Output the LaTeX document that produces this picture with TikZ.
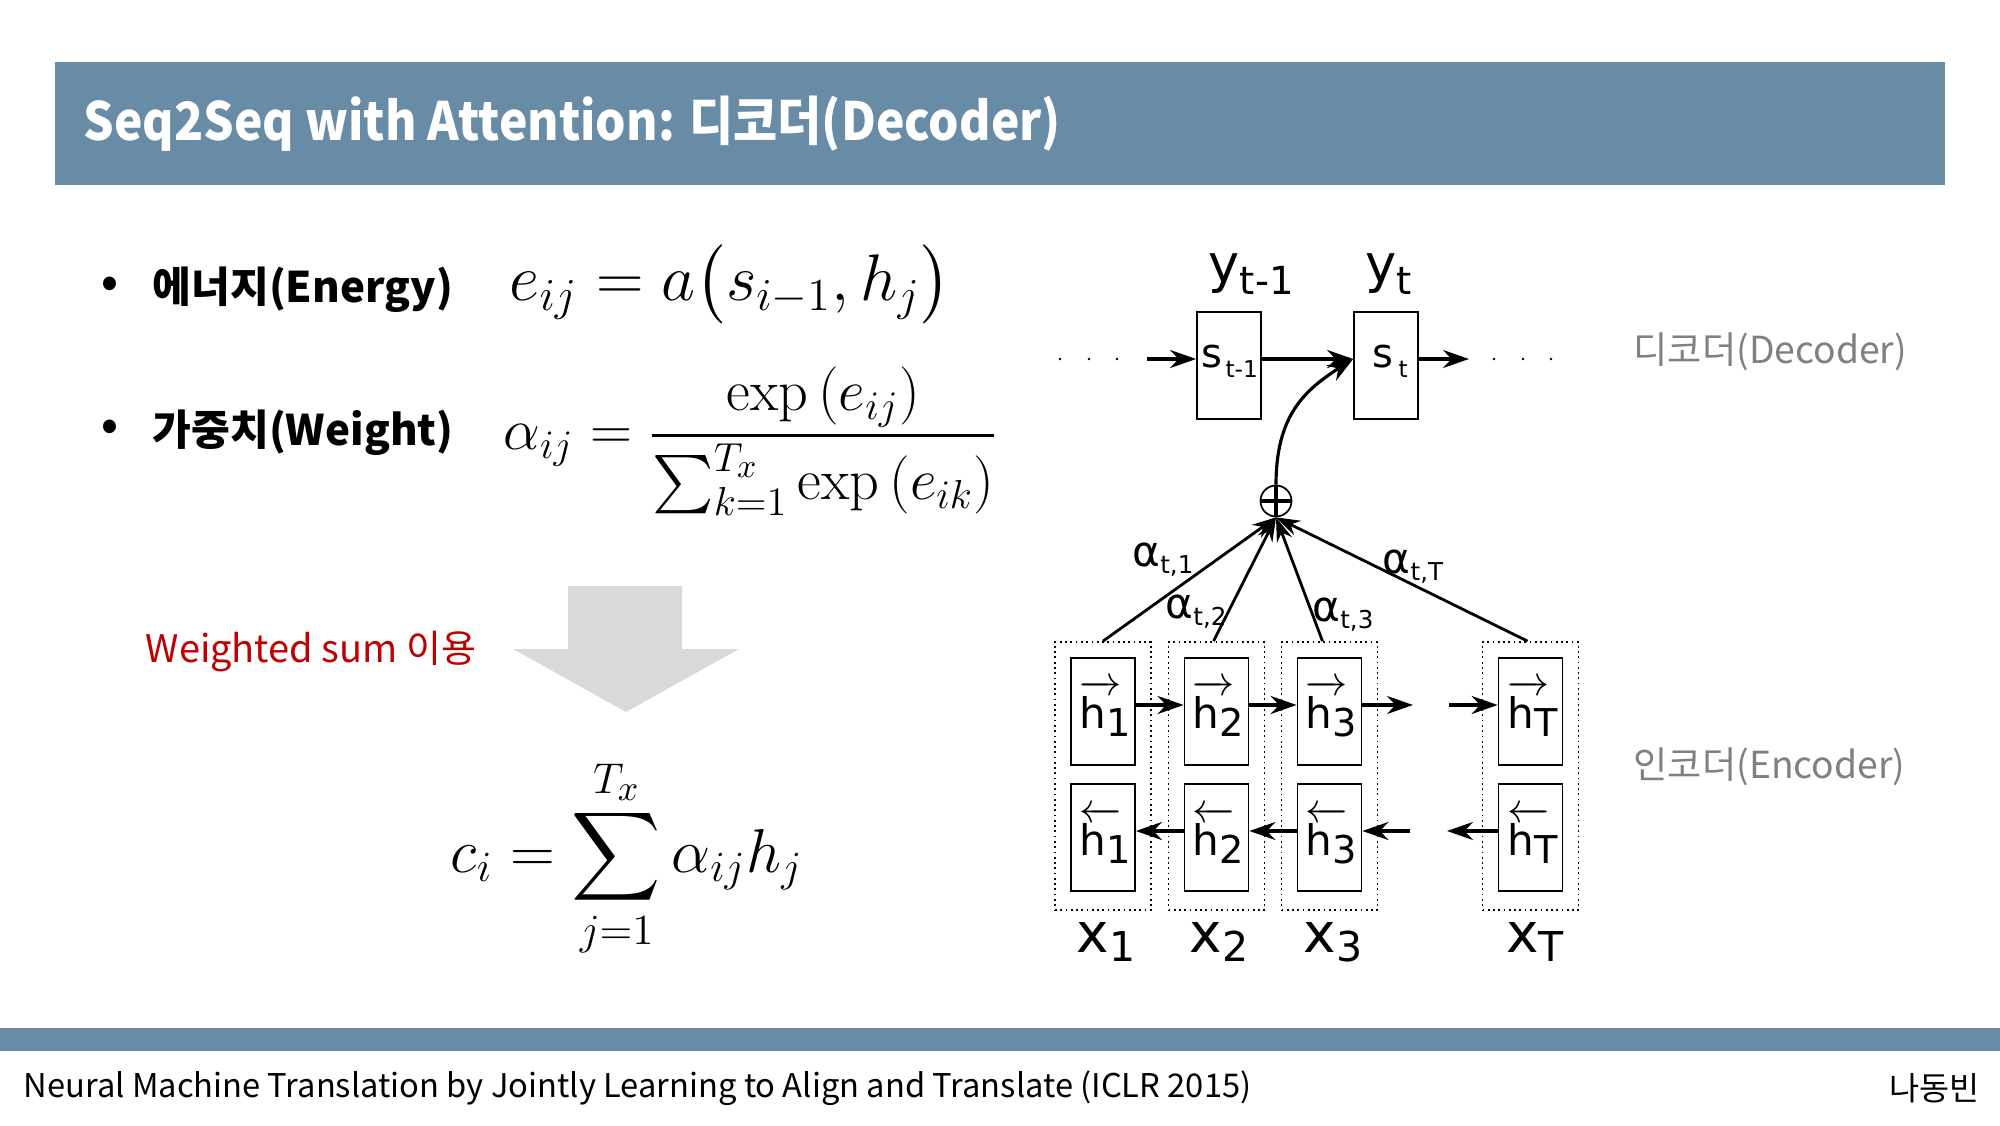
\documentclass[tikz,border=0pt]{standalone}
\usepackage{amsmath}
\usepackage{graphicx}
\usepackage[no-math]{fontspec}
\setmainfont{Noto Sans CJK KR}
\newfontfamily\narrowfont[FakeStretch=0.91]{Noto Sans CJK KR}
\newfontfamily\dvfont{DejaVu Sans}
\usetikzlibrary{arrows.meta}
\definecolor{SQBar}{HTML}{688BA6}
\definecolor{SQRed}{HTML}{C00000}
\definecolor{SQArrow}{HTML}{D9D9D9}
\definecolor{SQGrey}{HTML}{808080}
\newcommand{\lsub}[3]{\raisebox{-#1}{\fontsize{#2}{#2}\selectfont #3}}
\newcommand{\hright}{\rlap{$\overrightarrow{\phantom{\text{h}}}$}h}
\newcommand{\hleft}{\rlap{$\overleftarrow{\phantom{\text{h}}}$}h}
\tikzset{
  txt/.style={inner sep=0pt},
  mth/.style={inner sep=0pt,anchor=base west,font=\fontsize{17.28}{21}\selectfont},
  dv/.style={inner sep=0pt,font=\dvfont\fontsize{#1}{#1}\selectfont},
  cell/.style={draw,line width=0.5pt,minimum width=0.64cm,minimum height=1.07cm,inner sep=0pt},
  col/.style={draw,densely dotted,line width=0.5pt,minimum width=0.96cm,minimum height=2.68cm,inner sep=0pt},
  flow/.style={line width=0.9pt,-{Stealth[length=2.6mm,width=1.8mm]}},
  att/.style={line width=0.8pt,-{Stealth[length=2.4mm,width=1.6mm]}},
}

\begin{document}
\begin{tikzpicture}[x=1cm,y=1cm]
\path[use as bounding box] (0,0) rectangle (20,11.25);
\fill[SQBar] (0.55,9.40) rectangle (19.45,10.625);
\node[txt,anchor=west,text=white,font=\narrowfont\fontsize{15}{18}\selectfont\bfseries] (title) at (0.83,10.01) {Seq2Seq with Attention: 디코더(Decoder)};
\fill[SQBar] (0,0.74) rectangle (20,0.97);
\node[txt,anchor=west,font=\fontsize{9.3}{11}\selectfont] (paper) at (0.23,0.37) {Neural Machine Translation by Jointly Learning to Align and Translate (ICLR 2015)};
\node[txt,anchor=east,font=\fontsize{9.3}{11}\selectfont] (author) at (19.80,0.37) {나동빈};

\node[txt,font=\fontsize{12}{14}\selectfont\bfseries] (dot1) at (1.10,8.38) {•};
\node[txt,anchor=west,font=\fontsize{12}{14}\selectfont\bfseries] (energy) at (1.52,8.35) {에너지(Energy)};
\node[mth] (eqe) at (5.09,8.24) {\scalebox{1.085}{$e_{ij} = a\bigl(s_{i-1}, h_j\bigr)$}};
\node[txt,font=\fontsize{12}{14}\selectfont\bfseries] (dot2) at (1.10,6.95) {•};
\node[txt,anchor=west,font=\fontsize{12}{14}\selectfont\bfseries] (weight) at (1.52,6.92) {가중치(Weight)};
\node[mth] (eqa) at (5.03,6.75) {\scalebox{0.96}{$\displaystyle \alpha_{ij} = \frac{\exp\left(e_{ij}\right)}{\sum_{k=1}^{T_x}\exp\left(e_{ik}\right)}$}};

\node[txt,anchor=west,text=SQRed,font=\fontsize{10.8}{12}\selectfont] (wsum) at (1.45,4.73) {Weighted sum 이용};
\fill[SQArrow] (5.68,5.39) -- (6.82,5.39) -- (6.82,4.76) -- (7.39,4.76) -- (6.26,4.13) -- (5.13,4.76) -- (5.68,4.76) -- cycle;
\node[mth] (eqc) at (4.50,2.53) {\scalebox{1.02}{$\displaystyle c_i = \sum_{j=1}^{T_x}\alpha_{ij}h_j$}};

\node[txt,anchor=west,text=SQGrey,font=\fontsize{10.6}{13}\selectfont] (declab) at (16.33,7.73) {디코더(Decoder)};
\node[txt,anchor=west,text=SQGrey,font=\fontsize{10.6}{13}\selectfont] (enclab) at (16.33,3.58) {인코더(Encoder)};

\coordinate (srow) at (0,7.66);
\coordinate (frow) at (0,4.20);
\coordinate (brow) at (0,2.94);
\fill (10.60,7.66) circle (0.013) (10.89,7.66) circle (0.013) (11.17,7.66) circle (0.013);
\fill (14.94,7.66) circle (0.013) (15.23,7.66) circle (0.013) (15.51,7.66) circle (0.013);
\coordinate (sin) at (11.47,7.66);
\coordinate (sout) at (14.69,7.66);
\node[cell] (sbox1) at (12.29,7.595) {};
\node[cell] (sbox2) at (13.86,7.595) {};
\node[dv=11.4,anchor=base west] (slab1) at (12.01,7.57) {s\hspace{0.03cm}\lsub{2.8pt}{6.6}{t-1}};
\node[dv=11.4,anchor=base west] (slab2) at (13.72,7.57) {s\hspace{0.05cm}\lsub{2.8pt}{6.6}{t}};
\node[dv=15,anchor=base west] (ylab1) at (12.08,8.425) {y\lsub{3.5pt}{11}{t-1}};
\node[dv=15,anchor=base west] (ylab2) at (13.65,8.425) {y\lsub{3.5pt}{11}{t}};
\draw[flow] (sin) -- (sbox1.west |- srow);
\draw[flow] (sbox1.east |- srow) -- (sbox2.west |- srow);
\draw[flow] (sbox2.east |- srow) -- (sout);

\node[draw,circle,minimum size=0.31cm,inner sep=0pt,line width=0.5pt] (op) at (12.76,6.24) {};
\draw[line width=0.9pt] (op.north) -- (op.south) (op.west) -- (op.east);
\draw[flow] (op.north) .. controls (12.76,7.10) and (13.05,7.35) .. (sbox2.west |- srow);

\node[col] (col1) at (11.03,3.49) {};
\node[col] (col2) at (12.165,3.49) {};
\node[col] (col3) at (13.295,3.49) {};
\node[col] (colT) at (15.305,3.49) {};
\node[cell] (hf1) at (11.03,4.135) {};
\node[cell] (hf2) at (12.165,4.135) {};
\node[cell] (hf3) at (13.295,4.135) {};
\node[cell] (hfT) at (15.305,4.135) {};
\node[cell] (hb1) at (11.03,2.875) {};
\node[cell] (hb2) at (12.165,2.875) {};
\node[cell] (hb3) at (13.295,2.875) {};
\node[cell] (hbT) at (15.305,2.875) {};
\node[dv=12,anchor=base] (hflab1) at (11.05,3.97) {\hright\lsub{2.3pt}{10.9}{1}};
\node[dv=12,anchor=base] (hflab2) at (12.185,3.97) {\hright\lsub{2.3pt}{10.9}{2}};
\node[dv=12,anchor=base] (hflab3) at (13.315,3.97) {\hright\lsub{2.3pt}{10.9}{3}};
\node[dv=12,anchor=base] (hflabT) at (15.325,3.97) {\hright\lsub{2.3pt}{10.9}{T}};
\node[dv=12,anchor=base] (hblab1) at (11.05,2.70) {\hleft\lsub{2.3pt}{10.9}{1}};
\node[dv=12,anchor=base] (hblab2) at (12.185,2.70) {\hleft\lsub{2.3pt}{10.9}{2}};
\node[dv=12,anchor=base] (hblab3) at (13.315,2.70) {\hleft\lsub{2.3pt}{10.9}{3}};
\node[dv=12,anchor=base] (hblabT) at (15.325,2.70) {\hleft\lsub{2.3pt}{10.9}{T}};
\node[dv=15.6,anchor=base] (xlab1) at (11.06,1.73) {x\lsub{2.8pt}{11.7}{1}};
\node[dv=15.6,anchor=base] (xlab2) at (12.19,1.73) {x\lsub{2.8pt}{11.7}{2}};
\node[dv=15.6,anchor=base] (xlab3) at (13.33,1.73) {x\lsub{2.8pt}{11.7}{3}};
\node[dv=15.6,anchor=base] (xlabT) at (15.35,1.73) {x\lsub{2.8pt}{11.7}{T}};

\coordinate (fgap1) at (14.13,4.20);
\coordinate (fgap2) at (14.49,4.20);
\coordinate (bgap1) at (14.47,2.94);
\coordinate (bgap2) at (14.10,2.94);
\draw[flow] (hf1.east |- frow) -- (hf2.west |- frow);
\draw[flow] (hf2.east |- frow) -- (hf3.west |- frow);
\draw[flow] (hf3.east |- frow) -- (fgap1);
\draw[flow] (fgap2) -- (hfT.west |- frow);
\draw[flow] (hbT.west |- brow) -- (bgap1);
\draw[flow] (bgap2) -- (hb3.east |- brow);
\draw[flow] (hb3.west |- brow) -- (hb2.east |- brow);
\draw[flow] (hb2.west |- brow) -- (hb1.east |- brow);

\draw[att] (col1.north) -- (op.south);
\draw[att] ([xshift=-0.03cm]col2.north) -- (op.south);
\draw[att] ([xshift=-0.07cm]col3.north) -- (op.south);
\draw[att] ([xshift=-0.03cm]colT.north) -- (op.south);
\node[dv=12] (alab1) at (11.63,5.65) {α\lsub{2pt}{7}{t,1}};
\node[dv=12] (alab2) at (11.96,5.13) {α\lsub{2pt}{7}{t,2}};
\node[dv=12] (alab3) at (13.43,5.10) {α\lsub{2pt}{7}{t,3}};
\node[dv=12] (alabT) at (14.13,5.58) {α\lsub{2pt}{7}{t,T}};
\end{tikzpicture}
\end{document}
